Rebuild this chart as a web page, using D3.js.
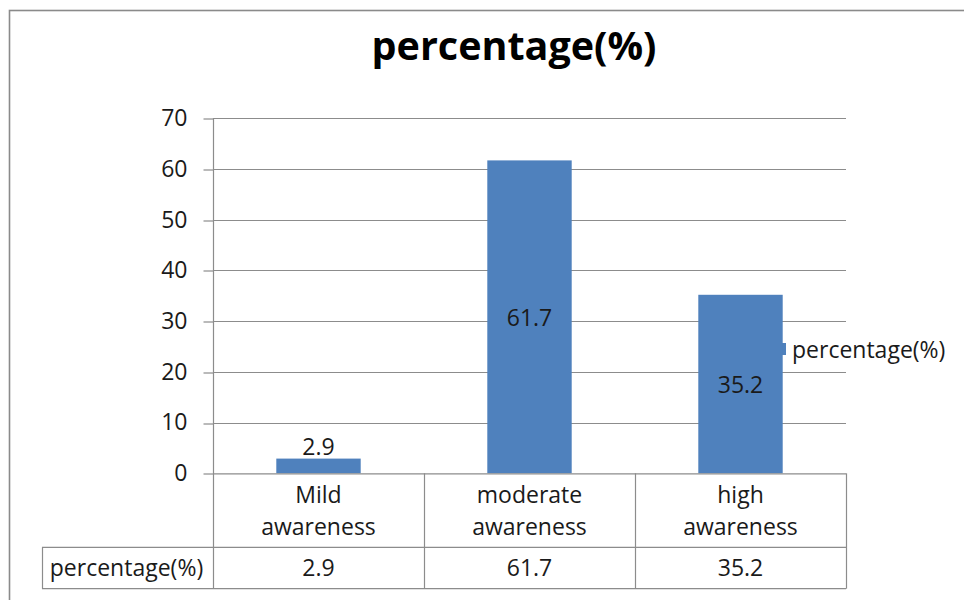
<!DOCTYPE html>
<html>
<head>
<meta charset="utf-8">
<script src="https://cdn.jsdelivr.net/npm/d3@7"></script>
<style>
  html, body { margin: 0; padding: 0; background: #fff; }
  svg { display: block; }
  text { font-family: "Open Sans", "Liberation Sans", sans-serif; fill: #1a1a1a; }
</style>
</head>
<body>
<svg id="chart" width="964" height="600"></svg>
<script>
// Awareness levels and their share of respondents
const categories = [["Mild", "awareness"], ["moderate", "awareness"], ["high", "awareness"]];
const categoryKeys = ["Mild awareness", "moderate awareness", "high awareness"];
const percentages = [2.9, 61.7, 35.2];
const yTicks = [0, 10, 20, 30, 40, 50, 60, 70];
const seriesName = "percentage(%)";
const chartTitle = "percentage(%)";

const svg = d3.select("#chart");
const gridColor = "#8c8c8c";
const barColor = "#4f81bd";
const bodySize = "23px";

// outer frame of the chart
svg.append("rect")
  .attr("x", 9.5).attr("y", 10.5)
  .attr("width", 980).attr("height", 620)
  .attr("fill", "none").attr("stroke", "#8a8a8a").attr("stroke-width", 1.6);

// plot geometry
const plot = { left: 213, right: 846, top: 118.3, bottom: 473.3 };
const tableRow1 = 547.3, tableRow2 = 588.7, tableLeft = 42;

const y = d3.scaleLinear().domain([0, 70]).range([plot.bottom, plot.top]);
const x = d3.scaleBand().domain(categoryKeys).range([plot.left, plot.right]).padding(0);
const barW = x.bandwidth() * 0.4;

// title
svg.append("text")
  .attr("x", 514).attr("y", 60)
  .attr("text-anchor", "middle")
  .style("font-size", "39.5px").style("font-weight", "bold").style("fill", "#000")
  .text(chartTitle);

// horizontal gridlines
svg.append("g").selectAll("line").data(yTicks.filter(d => d > 0)).join("line")
  .attr("x1", plot.left).attr("x2", plot.right)
  .attr("y1", d => Math.round(y(d)) + 0.5).attr("y2", d => Math.round(y(d)) + 0.5)
  .attr("stroke", gridColor).attr("stroke-width", 1.2);

// y axis with outward ticks
const yAxis = d3.axisLeft(y).tickValues(yTicks).tickSize(10).tickPadding(16);
const gy = svg.append("g").attr("transform", `translate(${plot.left + 0.5},0)`).call(yAxis);
gy.select(".domain").remove();
gy.selectAll(".tick line").attr("stroke", gridColor).attr("stroke-width", 1.2)
  .attr("transform", d => `translate(0,${Math.round(y(d)) + 0.5 - y(d)})`);
gy.selectAll(".tick text").style("font-size", bodySize).style("font-family", "'Open Sans', sans-serif")
  .attr("fill", "#1a1a1a");

// legend key (sits just behind the last bar)
svg.append("rect")
  .attr("x", 776).attr("y", 343).attr("width", 10).attr("height", 12)
  .attr("fill", barColor);
svg.append("text")
  .attr("x", 792).attr("y", 358)
  .style("font-size", bodySize)
  .text(seriesName);

// bars
svg.append("g").selectAll("rect").data(percentages).join("rect")
  .attr("x", (d, i) => x(categoryKeys[i]) + (x.bandwidth() - barW) / 2)
  .attr("y", d => y(d))
  .attr("width", barW)
  .attr("height", d => y(0) - y(d))
  .attr("fill", barColor);

// value labels: inside tall bars, above short ones
svg.append("g").selectAll("text").data(percentages).join("text")
  .attr("x", (d, i) => x(categoryKeys[i]) + x.bandwidth() / 2)
  .attr("y", d => (y(0) - y(d) > 40) ? (y(d) + y(0)) / 2 + 9 : y(d) - 4)
  .attr("text-anchor", "middle")
  .style("font-size", bodySize)
  .text(d => d.toFixed(1));

// data table beneath the axis
const tg = svg.append("g").attr("stroke", gridColor).attr("stroke-width", 1.2).attr("fill", "none");
tg.append("line").attr("x1", plot.left).attr("x2", plot.right).attr("y1", plot.bottom + 0.5).attr("y2", plot.bottom + 0.5);
tg.append("line").attr("x1", tableLeft).attr("x2", plot.right).attr("y1", tableRow1).attr("y2", tableRow1);
tg.append("line").attr("x1", tableLeft).attr("x2", plot.right).attr("y1", tableRow2).attr("y2", tableRow2);
tg.append("line").attr("x1", tableLeft + 0.5).attr("x2", tableLeft + 0.5).attr("y1", tableRow1).attr("y2", tableRow2);
// column dividers (the first one continues the value axis)
const dividers = categoryKeys.map(k => x(k)).concat([plot.right]);
tg.selectAll(".div").data(dividers).join("line")
  .attr("x1", d => Math.round(d) + 0.5).attr("x2", d => Math.round(d) + 0.5)
  .attr("y1", (d, i) => i === 0 ? plot.top : plot.bottom)
  .attr("y2", tableRow2);

// category labels (two lines each)
const catG = svg.append("g").selectAll("text").data(categories).join("text")
  .attr("text-anchor", "middle")
  .style("font-size", bodySize)
  .attr("x", (d, i) => x(categoryKeys[i]) + x.bandwidth() / 2);
catG.selectAll("tspan").data(d => d).join("tspan")
  .attr("x", function () { return d3.select(this.parentNode).attr("x"); })
  .attr("y", (d, j) => j === 0 ? 503 : 535)
  .text(d => d);

// table values row
svg.append("text")
  .attr("x", (tableLeft + plot.left) / 2 - 1).attr("y", 576)
  .attr("text-anchor", "middle")
  .style("font-size", bodySize)
  .text(seriesName);
svg.append("g").selectAll("text").data(percentages).join("text")
  .attr("x", (d, i) => x(categoryKeys[i]) + x.bandwidth() / 2)
  .attr("y", 576)
  .attr("text-anchor", "middle")
  .style("font-size", bodySize)
  .text(d => d);
</script>
</body>
</html>
